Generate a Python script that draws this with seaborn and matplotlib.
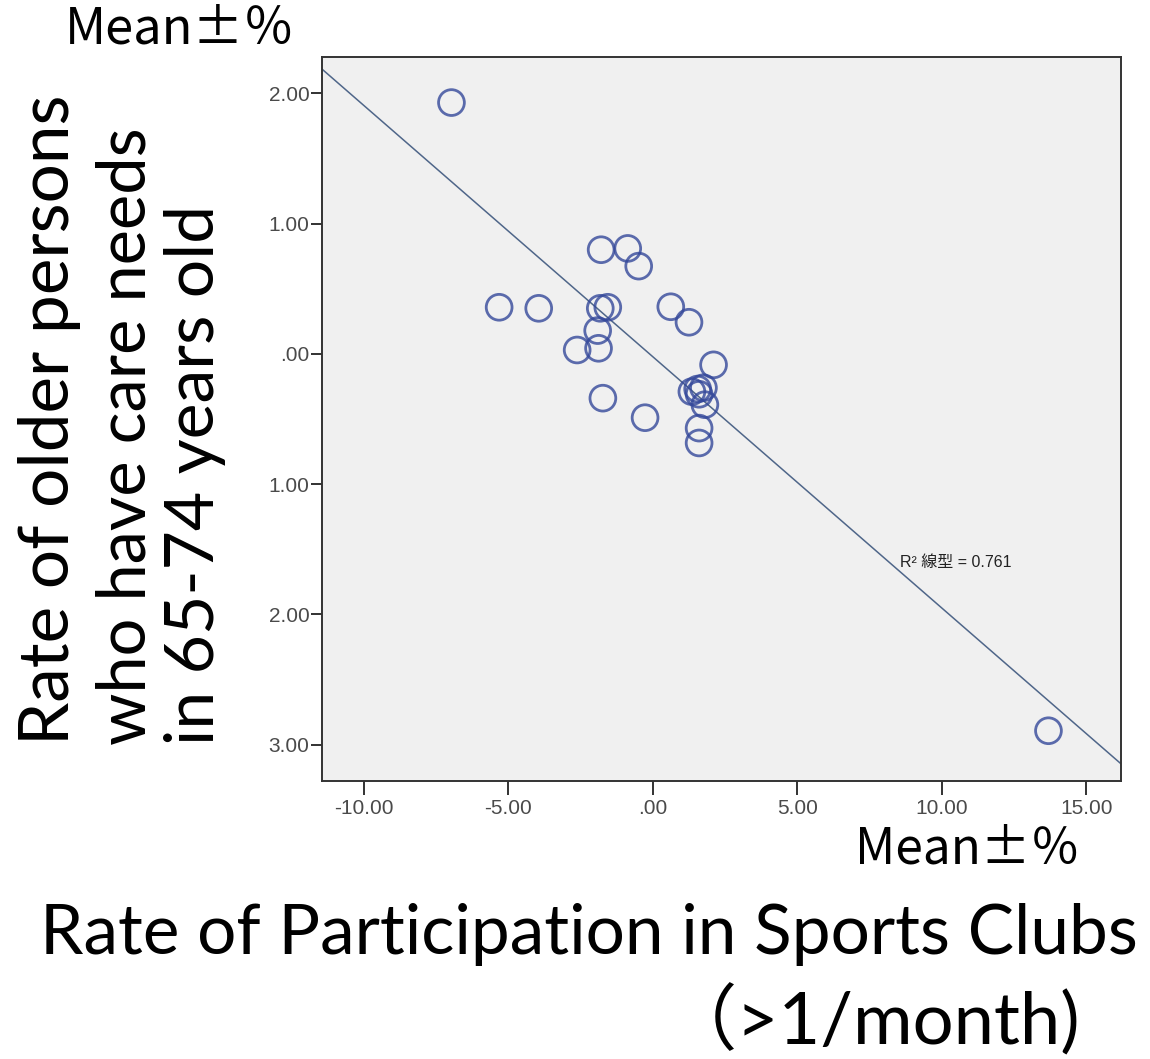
import matplotlib
matplotlib.use("Agg")
import matplotlib.pyplot as plt
import pandas as pd
import seaborn as sns

# deviation from the mean (%), one circle per area
club_rate = [-6.97, -5.32, -3.95, -1.79, -0.87, -0.49, -1.82, -1.56, -1.91,
             -2.62, -1.88, -1.73, -0.27, 0.62, 1.25, 2.10, 1.35, 1.55, 1.75,
             1.60, 1.80, 1.60, 1.60, 13.69]
care_rate = [1.93, 0.358, 0.35, 0.80, 0.81, 0.674, 0.35, 0.358, 0.179,
             0.03, 0.043, -0.34, -0.49, 0.362, 0.243, -0.084, -0.29, -0.27,
             -0.26, -0.31, -0.39, -0.57, -0.684, -2.894]

x_ticks = [-10, -5, 0, 5, 10, 15]
x_tick_labels = ["-10.00", "-5.00", ".00", "5.00", "10.00", "15.00"]
y_ticks = [2, 1, 0, -1, -2, -3]
y_tick_labels = ["2.00", "1.00", ".00", "1.00", "2.00", "3.00"]
r2_label = "R² 線型 = 0.761"

W, H = 1150, 1059
BIG_FONT = ["Lato", "Noto Sans CJK JP", "DejaVu Sans"]
SPSS_FONT = ["Liberation Sans Narrow", "Liberation Sans", "Noto Sans CJK JP"]

sns.set_theme(style="white")
plt.rcParams["font.family"] = BIG_FONT

fig = plt.figure(figsize=(W / 100, H / 100), dpi=100)
fig.patch.set_facecolor("white")
# plot frame: 322..1121 px wide, 57..781 px tall
ax = fig.add_axes([322 / W, 1 - 781 / H, (1121 - 322) / W, (781 - 57) / H])
ax.set_facecolor("#f0f0f0")
xlim, ylim = (-11.45, 16.2), (-3.28, 2.28)
ax.set_xlim(*xlim)
ax.set_ylim(*ylim)

df = pd.DataFrame({"club": club_rate, "care": care_rate})
sns.regplot(
    data=df, x="club", y="care", ax=ax, ci=None, truncate=False,
    color="#34489a",
    scatter_kws=dict(s=345, facecolors="none", edgecolors="#34489a",
                     linewidths=2.0, zorder=3),
    line_kws=dict(color="#4f6689", lw=1.1, zorder=2),
)
ax.set_xlim(*xlim)
ax.set_ylim(*ylim)
ax.set_xlabel("")
ax.set_ylabel("")

ax.set_xticks(x_ticks, x_tick_labels)
ax.set_yticks(y_ticks, y_tick_labels)
ax.tick_params(axis="both", direction="out", width=1.3, color="#222222",
               labelcolor="#4a4a4a", labelsize=15, bottom=True, left=True)
ax.tick_params(axis="x", length=10, pad=3)
ax.tick_params(axis="y", length=8, pad=1)
for lab in ax.get_xticklabels() + ax.get_yticklabels():
    lab.set_family(SPSS_FONT)
for sp in ax.spines.values():
    sp.set_color("#333333")
    sp.set_linewidth(1.4)
ax.grid(False)

fig.text(900 / W, 1 - 562 / H, r2_label, family=SPSS_FONT, fontsize=11.5,
         color="#222222", ha="left", va="center")

renderer = fig.canvas.get_renderer()


def fit_text(x, y, s, target, vertical=False, **kw):
    # scale the font so the text spans `target` pixels
    t = fig.text(x / W, 1 - y / H, s, fontsize=40, **kw)
    bb = t.get_window_extent(renderer)
    span = bb.height if vertical else bb.width
    t.set_fontsize(40 * target / span)
    return t


MEAN_FONT = ["Noto Sans CJK JP", "DejaVu Sans"]
fit_text(65, 30, "Mean±％", 230, ha="left", va="center", color="black",
         family=MEAN_FONT)
fit_text(855, 850, "Mean±％", 225, ha="left", va="center", color="black",
         family=MEAN_FONT)
fit_text(40, 935, "Rate of Participation in Sports Clubs", 1100,
         ha="left", va="center", color="black")
fit_text(1080, 1020, "（>1/month)", 415, ha="right", va="center",
         color="black")

ylines = ["Rate of older persons", "who have care needs", "in 65-74 years old"]
ycols = [50, 127, 195]
ylens = [650, 617, 540]
for s, xc, ln in zip(ylines, ycols, ylens):
    fit_text(xc, 745, s, ln, vertical=True, rotation=90, ha="center",
             va="bottom", color="black")

fig.savefig("out.png", dpi=100, facecolor="white")
